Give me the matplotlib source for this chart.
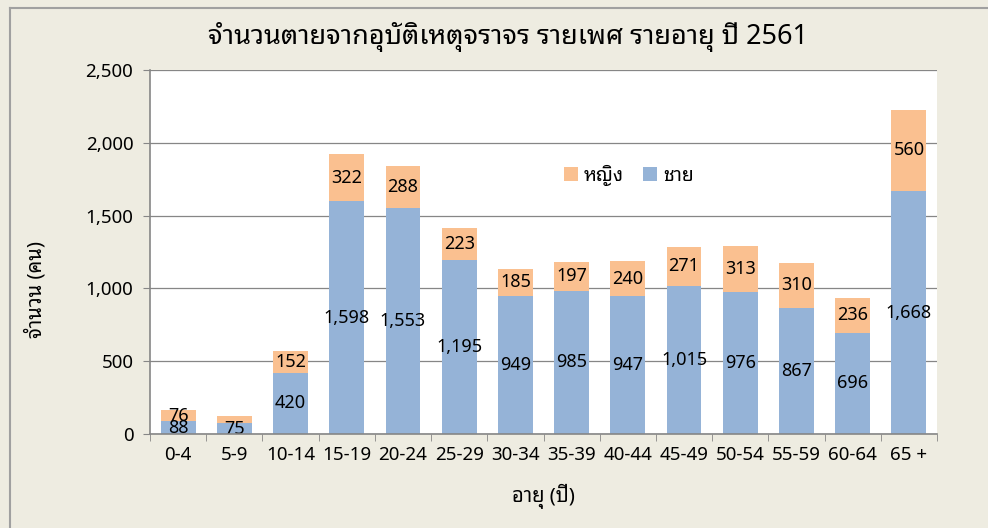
import matplotlib
matplotlib.use("Agg")
import matplotlib.pyplot as plt
from matplotlib import font_manager
from matplotlib.ft2font import FT2Font
from matplotlib.lines import Line2D
import numpy as np

age_groups = ['0-4', '5-9', '10-14', '15-19', '20-24', '25-29', '30-34',
              '35-39', '40-44', '45-49', '50-54', '55-59', '60-64', '65 +']
male = [88, 75, 420, 1598, 1553, 1195, 949, 985, 947, 1015, 976, 867, 696, 1668]
female = [76, 48, 152, 322, 288, 223, 185, 197, 240, 271, 313, 310, 236, 560]
female_labels = ['76', '', '152', '322', '288', '223', '185', '197', '240',
                 '271', '313', '310', '236', '560']

title = 'จำนวนตายจากอุบัติเหตุจราจร รายเพศ รายอายุ ปี 2561'
ylab = 'จำนวน (คน)'
xlab = 'อายุ (ปี)'


def find_thai_font():
    # look for any installed font that has Thai glyphs
    prefer = ['Tahoma', 'Noto Sans Thai', 'Loma', 'Garuda', 'Sarabun', 'Leelawadee']
    found = {}
    for path in font_manager.findSystemFonts():
        try:
            f = FT2Font(path)
            cmap = f.get_charmap()
        except Exception:
            continue
        if 0x0E08 in cmap and 0x0E33 in cmap:
            try:
                name = font_manager.FontProperties(fname=path).get_name()
                font_manager.fontManager.addfont(path)
                found[name] = path
            except Exception:
                pass
    for p in prefer:
        for n in found:
            if n.startswith(p):
                return n
    return next(iter(found), None)


thai = find_thai_font()
fams = [thai, 'DejaVu Sans'] if thai else ['DejaVu Sans']
plt.rcParams['font.family'] = fams

bg = '#EEECE1'
c_male = '#95B3D7'
c_female = '#FAC090'
axis_col = '#868686'

fig = plt.figure(figsize=(9.88, 5.28), dpi=100, facecolor=bg)
ax = fig.add_axes([150 / 988, 1 - 434 / 528, 787 / 988, 364 / 528])
ax.set_facecolor('white')

x = np.arange(len(age_groups))
w = 0.62
b1 = ax.bar(x, male, w, color=c_male, label='ชาย', zorder=3)
b2 = ax.bar(x, female, w, bottom=male, color=c_female, label='หญิง', zorder=3)

ax.bar_label(b1, labels=[f'{v:,}' for v in male], label_type='center',
             fontsize=13, color='black', zorder=4)
ax.bar_label(b2, labels=female_labels, label_type='center',
             fontsize=13, color='black', zorder=4)

ax.set_xlim(-0.5, len(age_groups) - 0.5)
ax.set_ylim(0, 2500)
ax.set_yticks(np.arange(0, 2501, 500))
ax.set_yticklabels([f'{v:,}' for v in range(0, 2501, 500)], fontsize=13.5)
ax.set_xticks(x)
ax.set_xticklabels(age_groups, fontsize=13.5)
ax.set_xticks(np.arange(-0.5, len(age_groups)), minor=True)
ax.tick_params(axis='x', which='major', length=0, pad=9)
ax.tick_params(axis='x', which='minor', length=5, color=axis_col, direction='out')
ax.tick_params(axis='y', length=5, color=axis_col, direction='out', pad=7)

ax.grid(axis='y', color=axis_col, linewidth=0.9, zorder=0)
for s in ['top', 'right']:
    ax.spines[s].set_visible(False)
for s in ['left', 'bottom']:
    ax.spines[s].set_color(axis_col)
    ax.spines[s].set_linewidth(1.2)
    ax.spines[s].set_zorder(5)

ax.set_ylabel(ylab, fontsize=14.5, fontweight='bold')
ax.yaxis.set_label_coords(-0.131, 0.396)
ax.set_xlabel(xlab, fontsize=14.5, fontweight='bold')
ax.xaxis.set_label_coords(0.5, -0.137)

fig.text(508 / 988, 1 - 37 / 528, title, fontsize=19.5, fontweight='bold',
         ha='center', va='center')

handles = [b2, b1]
ax.legend(handles, ['หญิง', 'ชาย'], loc='center', bbox_to_anchor=(629 / 988, 1 - 175 / 528),
          bbox_transform=fig.transFigure, ncol=2, frameon=False,
          handlelength=0.7, handleheight=0.7, handletextpad=0.3, columnspacing=1.0,
          prop={'weight': 'bold', 'size': 14})

# outer chart border (only left and top are inside the picture)
bx, by = 9.5 / 988, 1 - 7.5 / 528
fig.add_artist(Line2D([bx, bx], [0, by], transform=fig.transFigure,
                      color='#A0A0A0', linewidth=1.5))
fig.add_artist(Line2D([bx, 1.0], [by, by], transform=fig.transFigure,
                      color='#A0A0A0', linewidth=1.5))

fig.savefig('out.png', dpi=100, facecolor=bg)
